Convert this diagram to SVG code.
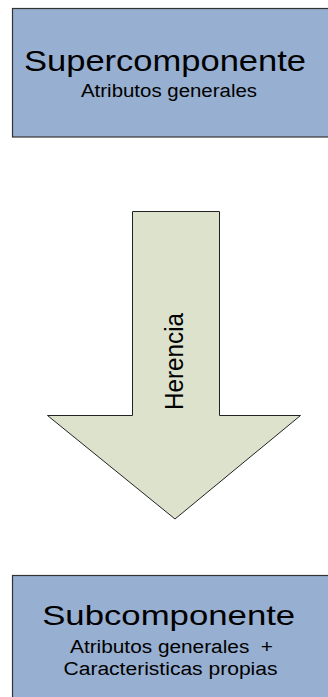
<svg xmlns="http://www.w3.org/2000/svg" width="328" height="697" viewBox="0 0 328 697">
<style>
.box{fill:#97afd0;stroke:#333333;stroke-width:1.2}
.arrow{fill:#dde2cd;stroke:#222222;stroke-width:1}
text{font-family:"Liberation Sans",Arial,sans-serif;fill:#000;text-anchor:middle}
.sub{font-size:18px}
</style>
<rect width="328" height="697" fill="#ffffff"/>
<g id="supercomponente">
<rect class="box" x="12.5" y="8.5" width="330" height="128.5"/>
<text font-size="30" x="165" y="71" textLength="282" lengthAdjust="spacingAndGlyphs">Supercomponente</text>
<text class="sub" x="169" y="96.5" textLength="176" lengthAdjust="spacingAndGlyphs">Atributos generales</text>
</g>
<g id="connectors">
<g id="herencia">
<polygon class="arrow" points="132.5,211.5 219.5,211.5 219.5,415.5 300.5,415.5 175,519 47.5,415.5 132.5,415.5"/>
<text x="0" y="0" font-size="25.5" textLength="97" lengthAdjust="spacingAndGlyphs" transform="translate(183,361.5) rotate(-90)">Herencia</text>
</g>
</g>
<g id="subcomponente">
<rect class="box" x="12.5" y="575.5" width="330" height="140"/>
<text font-size="28" x="168.7" y="625" textLength="253" lengthAdjust="spacingAndGlyphs">Subcomponente</text>
<text class="sub" x="171.5" y="653" textLength="203" lengthAdjust="spacingAndGlyphs" xml:space="preserve">Atributos generales  +</text>
<text class="sub" x="170.5" y="675" textLength="214" lengthAdjust="spacingAndGlyphs">Caracteristicas propias</text>
</g>
</svg>
